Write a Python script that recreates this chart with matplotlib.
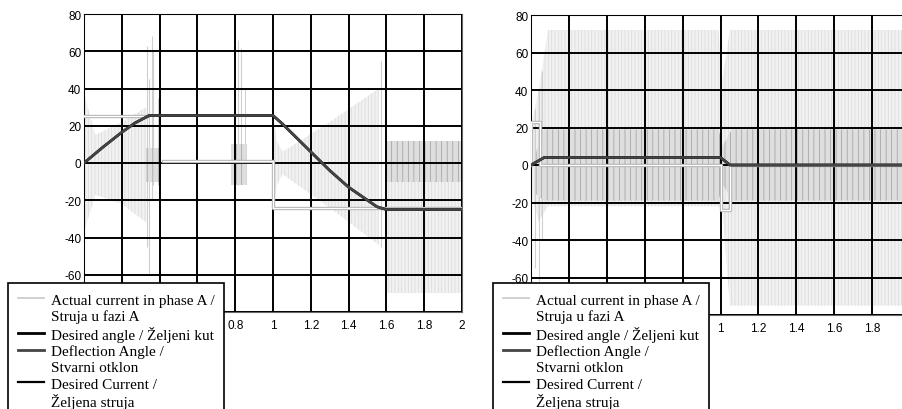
"""
Two-panel step-motor test plot: phase current, desired / actual angle.
"""

import matplotlib
matplotlib.use('Agg')
import numpy as np
import matplotlib.pyplot as plt
from matplotlib.lines import Line2D
import matplotlib.patheffects as pe

nan = np.nan

# ── Data: left panel ──────────────────────────────────────────
t_defl_L = [0, 0.1, 0.2, 0.27, 0.345, 1.0, 1.05, 1.1, 1.2, 1.3, 1.4, 1.5, 1.55, 1.6, 2.0]
defl_L   = [0, 8.5, 16.5, 21.5, 25.5, 25.5, 21, 16, 6, -4, -13, -20, -23.5, -25, -25]

t_dcur_L = [0, 0.34, 0.34, 0.42, 1.0, 1.0, 1.6, 2.0]
dcur_L   = [25, 25, nan, 1, 1, -24, -24, -24]

cur_t_L  = [0.0, 0.06, 0.2, 0.33, nan, 1.0, 1.02, 1.05, 1.3, 1.56, nan, 1.59, 2.0]
cur_hi_L = [37, 15, 22, 30, nan, 27, 12, 6, 22, 40, nan, 12, 12]
cur_lo_L = [-37, -17, -22, -32, nan, -27, -12, -6, -24, -44, nan, -70, -70]

dark_t_L  = [0.33, 0.41, nan, 0.78, 0.86, nan, 1.59, 2.0]
dark_hi_L = [8, 8, nan, 10, 10, nan, 12, 12]
dark_lo_L = [-10, -10, nan, -12, -12, nan, -10, -10]

spk_t_L  = [0.335, 0.345, 0.36, 0.365, 0.39, 0.80, 0.815, 0.83, 0.85, 1.57]
spk_hi_L = [63, 45, 68, 60, 35, 63, 66, 62, 40, 55]
spk_lo_L = [-45, -60, -20, -12, -12, -15, -12, -10, -10, -45]

# ── Data: right panel ─────────────────────────────────────────
t_defl_R = [0, 0.07, 1.0, 1.05, 2.0]
defl_R   = [0, 4, 4, 0, 0]

t_dcur_R = [0, 0, 0.05, 0.05, 1.0, 1.0, 1.05, 1.05, 2.0]
dcur_R   = [0, 23, 23, 0, 0, -24, -24, 0, 0]

cur_t_R  = [0.0, 0.04, 0.09, 0.99, 1.01, 1.05, 2.0]
cur_hi_R = [20, 40, 72, 72, 45, 72, 72]
cur_lo_R = [-15, -30, -22, -22, -25, -75, -75]

dark_t_R  = [0.02, 0.07, 0.99, 1.01, 1.06, 2.0]
dark_hi_R = [5, 19, 19, 10, 19, 19]
dark_lo_R = [-15, -19, -19, -10, -19, -19]

spk_t_R  = [0.02, 0.04, 0.06]
spk_hi_R = [30, 40, 50]
spk_lo_R = [-55, -62, -40]

xticks = np.arange(0, 2.01, 0.2)
yticks = np.arange(-80, 81, 20)
xticklabels_L = ['0', '0.2', '0.4', '0.6', '0.8', '1', '1.2', '1.4', '1.6', '1.8', '2']
xticklabels_R = ['0', '0.2', '0.4', '0.6', '0.8', '1', '1.2', '1.4', '1.6', '1.8', '']

legend_labels = ['Actual current in phase A /', 'Struja u fazi A',
                 'Desired angle / Željeni kut', 'Deflection Angle /',
                 'Stvarni otklon', 'Desired Current /', 'Željena struja']

# ── Style ─────────────────────────────────────────────────────
C_LIGHT = '#f1f1f1'
C_LIGHT_H = '#dadada'
C_DARK = '#dedede'
C_DARK_H = '#9c9c9c'
C_DEFL = '#444444'
plt.rcParams['hatch.linewidth'] = 0.5
plt.rcParams['axes.unicode_minus'] = False

fig = plt.figure(figsize=(9.02, 4.10), dpi=100, facecolor='white')
axL = fig.add_axes([84/902, 1-313/410, 378/902, 298/410])
axR = fig.add_axes([531/902, 1-316/410, 379/902, 300/410])


def draw_panel(ax, ct, chi, clo, dt, dhi, dlo, st, shi, slo, tdc, dc, td, dfl, xlabs):
    ax.fill_between(ct, clo, chi, facecolor=C_LIGHT, edgecolor=C_LIGHT_H,
                    hatch='|||||', lw=0, zorder=1)
    ax.vlines(st, slo, shi, color='#cfcfcf', lw=0.8, zorder=1)
    ax.fill_between(dt, dlo, dhi, facecolor=C_DARK, edgecolor=C_DARK_H,
                    hatch='|||', lw=0, zorder=1.2)
    ax.plot(tdc, dc, color='white', lw=0.9, zorder=3,
            path_effects=[pe.Stroke(linewidth=2.4, foreground='#b4b4b4'), pe.Normal()])
    ax.plot(td, dfl, color='black', lw=2.0, zorder=3.2)
    ax.plot(td, dfl, color=C_DEFL, lw=1.8, zorder=3.4)

    ax.set_xlim(0, 2)
    ax.set_ylim(-80, 80)
    ax.set_xticks(xticks)
    ax.set_xticklabels(xlabs)
    ax.set_yticks(yticks)
    ax.grid(True, color='black', lw=1.4)
    ax.set_axisbelow(False)
    ax.tick_params(length=0, labelsize=8.5, pad=2)
    ax.tick_params(axis='x', pad=5)
    for lab in ax.get_xticklabels() + ax.get_yticklabels():
        lab.set_family('Liberation Sans')
    for s in ax.spines.values():
        s.set_color('#666666')
        s.set_linewidth(0.8)


draw_panel(axL, cur_t_L, cur_hi_L, cur_lo_L, dark_t_L, dark_hi_L, dark_lo_L,
           spk_t_L, spk_hi_L, spk_lo_L, t_dcur_L, dcur_L, t_defl_L, defl_L, xticklabels_L)
draw_panel(axR, cur_t_R, cur_hi_R, cur_lo_R, dark_t_R, dark_hi_R, dark_lo_R,
           spk_t_R, spk_hi_R, spk_lo_R, t_dcur_R, dcur_R, t_defl_R, defl_R, xticklabels_R)

# ── Legends (clipped at the figure bottom, as in the source) ──
def make_handles():
    blank = Line2D([], [], color='none')
    return [Line2D([], [], color='#c8c8c8', lw=1.2), blank,
            Line2D([], [], color='black', lw=2.0),
            Line2D([], [], color=C_DEFL, lw=2.0), blank,
            Line2D([], [], color='black', lw=1.6), blank]

for x0 in (8/902, 493/902):
    leg = fig.legend(make_handles(), legend_labels, loc='upper left',
                     bbox_to_anchor=(x0, 1-284/410), borderaxespad=0,
                     fancybox=False, framealpha=1, edgecolor='black',
                     prop={'family': 'Liberation Serif', 'size': 11},
                     handlelength=1.7, handletextpad=0.45, borderpad=0.65,
                     labelspacing=0.17)
    leg.get_frame().set_linewidth(1.2)

fig.savefig('out.png', dpi=100, facecolor='white')
